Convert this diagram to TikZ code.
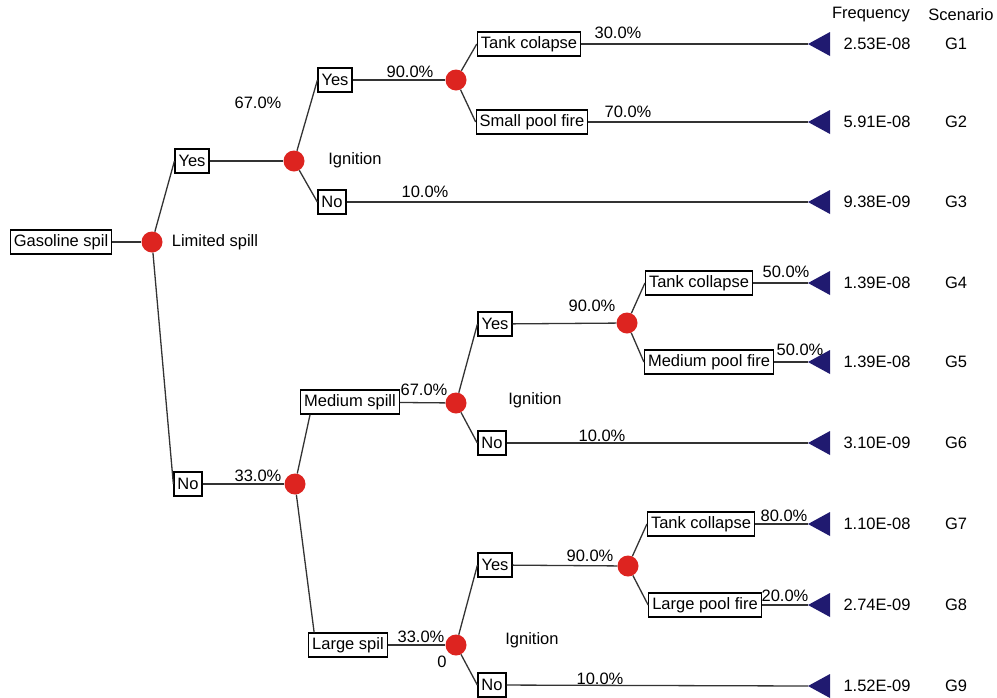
\documentclass[tikz,border=0pt]{standalone}
\usepackage{fontspec}
\setmainfont{Liberation Sans}
\usetikzlibrary{positioning, calc}
\definecolor{chanceRed}{RGB}{221, 36, 32}
\definecolor{endNavy}{RGB}{32, 26, 112}

\begin{document}
\begin{tikzpicture}[x=1pt, y=-1pt,
    every node/.style={font=\fontsize{16.5}{19}\selectfont},
    evt/.style={rectangle, draw, line width=1.2pt, inner xsep=3.5pt, inner ysep=0pt,
                minimum height=24pt, fill=white},
    chance/.style={circle, fill=chanceRed, inner sep=0pt, minimum size=21pt},
    lbl/.style={inner sep=1pt},
    branch/.style={line width=1.3pt, draw=black!80},
  ]
    \useasboundingbox (0,0) rectangle (997,697);

    % header
    \node[lbl] (hFreq) at (871,15) {Frequency};
    \node[lbl] (hScen) at (961,15) {Scenario};

    % end points, frequencies and scenarios
    \foreach \y/\freq/\sc in {44/2.53E-08/G1, 122/5.91E-08/G2, 202/9.38E-09/G3,
        283/1.39E-08/G4, 362/1.39E-08/G5, 443/3.10E-09/G6,
        524/1.10E-08/G7, 605/2.74E-09/G8, 686/1.52E-09/G9}{
      \coordinate (end\sc) at (808,\y);
      \fill[endNavy] (end\sc) -- ++(22,-12) -- ++(0,24) -- cycle;
      \node[lbl] (freq\sc) at (877,\y) {\freq};
      \node[lbl] (scen\sc) at (956,\y) {\sc};
    }

    % root
    \node[evt] (spill) at (61,242) {Gasoline spil};
    \node[chance] (cLim) at (152,242) {};
    \node[lbl, right=8pt of cLim] (limLbl) {Limited spill};

    % limited spill
    \node[evt] (yesA) at (192,161) {Yes};
    \node[evt] (noA) at (188,484) {No};
    \node[chance] (cIgnA) at (294,161) {};
    \node[lbl] (pIgnA) at (258,103) {67.0\%};
    \node[lbl] (ignA) at (355,160) {Ignition};
    \node[evt] (yesB) at (335,80) {Yes};
    \node[evt] (noB) at (332,202) {No};
    \node[lbl] (pYesB) at (410,72) {90.0\%};
    \node[lbl] (pNoB) at (425,192) {10.0\%};
    \node[chance] (cTankA) at (456,80) {};
    \node[evt] (tankA) at (529,44) {Tank colapse};
    \node[evt] (poolA) at (532,122) {Small pool fire};
    \node[lbl] (pTankA) at (618,33) {30.0\%};
    \node[lbl] (pPoolA) at (628,112) {70.0\%};

    % spill size
    \node[chance] (cSize) at (295,484) {};
    \node[lbl] (pSize) at (258,476) {33.0\%};

    % medium spill
    \node[evt] (med) at (350,402) {Medium spill};
    \node[lbl] (pMed) at (424,390) {67.0\%};
    \node[chance] (cIgnM) at (456,403) {};
    \node[lbl] (ignM) at (535,400) {Ignition};
    \node[evt] (yesM) at (495,324) {Yes};
    \node[lbl] (pYesM) at (592,306) {90.0\%};
    \node[chance] (cTankM) at (627,323) {};
    \node[evt] (noM) at (492,443) {No};
    \node[lbl] (pNoM) at (602,436) {10.0\%};
    \node[evt] (tankM) at (699,283) {Tank collapse};
    \node[lbl] (pTankM) at (786,272) {50.0\%};
    \node[evt] (poolM) at (709,362) {Medium pool fire};
    \node[lbl] (pPoolM) at (800,350) {50.0\%};

    % large spill
    \node[evt] (large) at (348,645) {Large spil};
    \node[lbl] (pLarge) at (421,637) {33.0\%};
    \node[chance] (cIgnL) at (456,645) {};
    \node[lbl] (zeroL) at (442,662) {0};
    \node[lbl] (ignL) at (532,640) {Ignition};
    \node[evt] (yesL) at (495,565) {Yes};
    \node[lbl] (pYesL) at (590,556) {90.0\%};
    \node[chance] (cTankL) at (628,566) {};
    \node[evt] (noL) at (492,685) {No};
    \node[lbl] (pNoL) at (600,679) {10.0\%};
    \node[evt] (tankL) at (701,524) {Tank collapse};
    \node[lbl] (pTankL) at (784,516) {80.0\%};
    \node[evt] (poolL) at (705,605) {Large pool fire};
    \node[lbl] (pPoolL) at (785,596) {20.0\%};

    % branches
    \draw[branch] (spill) -- (cLim);
    \draw[branch] (cLim) -- (yesA.west);
    \draw[branch] (cLim) -- (noA.west);
    \draw[branch] (yesA) -- (cIgnA);
    \draw[branch] (cIgnA) -- (yesB.west);
    \draw[branch] (cIgnA) -- (noB.west);
    \draw[branch] (yesB) -- (cTankA);
    \draw[branch] (cTankA) -- (tankA.west);
    \draw[branch] (cTankA) -- (poolA.west);
    \draw[branch] (tankA) -- (endG1);
    \draw[branch] (poolA) -- (endG2);
    \draw[branch] (noB) -- (endG3);

    \draw[branch] (noA) -- (cSize);
    \draw[branch] (cSize) -- ($(med.south west)+(10,0)$);
    \draw[branch] (cSize) -- ($(large.north west)+(6,0)$);
    \draw[branch] (med) -- (cIgnM);
    \draw[branch] (cIgnM) -- (yesM.west);
    \draw[branch] (cIgnM) -- (noM.west);
    \draw[branch] (yesM) -- (cTankM);
    \draw[branch] (cTankM) -- (tankM.west);
    \draw[branch] (cTankM) -- (poolM.west);
    \draw[branch] (tankM) -- (endG4);
    \draw[branch] (poolM) -- (endG5);
    \draw[branch] (noM) -- (endG6);

    \draw[branch] (large) -- (cIgnL);
    \draw[branch] (cIgnL) -- (yesL.west);
    \draw[branch] (cIgnL) -- (noL.west);
    \draw[branch] (yesL) -- (cTankL);
    \draw[branch] (cTankL) -- (tankL.west);
    \draw[branch] (cTankL) -- (poolL.west);
    \draw[branch] (tankL) -- (endG7);
    \draw[branch] (poolL) -- (endG8);
    \draw[branch] (noL) -- (endG9);
  \end{tikzpicture}
\end{document}
